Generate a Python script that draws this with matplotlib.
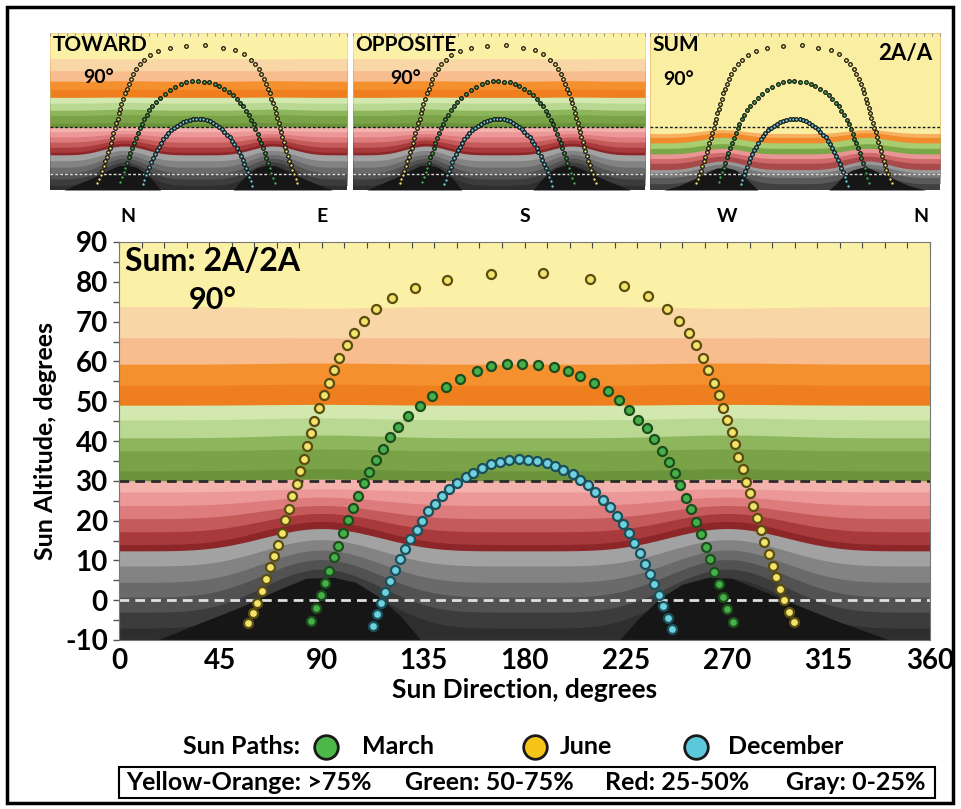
import numpy as np
import matplotlib.pyplot as plt
from matplotlib.patches import Rectangle

plt.rcParams['font.family'] = ['Lato', 'DejaVu Sans']
plt.rcParams['font.weight'] = 'bold'
plt.rcParams['axes.labelweight'] = 'bold'
plt.rcParams['axes.unicode_minus'] = False

# sun paths: azimuth (deg), altitude (deg)
june_az = [57.4, 59.3, 61.3, 63.3, 65.1, 67.0, 68.8, 70.7, 72.2, 73.8, 75.3, 76.9, 78.9, 80.3,
           82.1, 83.6, 85.1, 86.6, 88.9, 91.0, 93.1, 95.6, 97.8, 101.1, 104.4, 108.7, 114.1,
           121.3, 131.4, 145.6, 165.1, 188.2, 209.1, 224.1, 234.8, 243.1, 248.5, 252.8, 256.1,
           259.4, 261.6, 264.1, 266.2, 268.3, 269.7, 272.2, 273.4, 274.9, 277.1, 278.2, 280.1,
           281.6, 283.1, 285.0, 286.5, 288.4, 290.1, 291.7, 293.5, 295.3, 297.6, 299.8]
june_alt = [-5.8, -3.3, -0.6, 2.3, 5.3, 8.3, 11.1, 13.9, 16.9, 20.1, 23.0, 26.1, 29.3, 32.5,
            35.5, 38.8, 41.9, 45.0, 48.2, 51.6, 54.6, 57.8, 60.9, 64.1, 67.1, 70.2, 73.1,
            75.9, 78.4, 80.5, 82.0, 82.2, 80.7, 79.0, 76.4, 73.1, 70.2, 67.1, 64.1,
            60.9, 57.8, 54.6, 51.6, 48.2, 45.3, 42.3, 39.2, 36.1, 32.9, 29.8, 26.9,
            23.7, 20.6, 17.6, 14.6, 11.6, 8.6, 5.8, 2.8, 0.1, -2.9, -5.6]

march_az = [85.2, 87.4, 89.5, 91.5, 93.3, 95.4, 97.4, 99.6, 101.5, 104.0, 106.2, 108.9, 111.1,
            113.9, 117.0, 120.3, 124.0, 128.5, 133.5, 139.0, 145.0, 151.5, 158.8, 165.0, 172.1,
            179.0, 186.1, 193.2, 199.4, 204.6, 211.0, 217.0, 222.0, 226.5, 230.5, 234.2, 237.5,
            240.9, 244.1, 246.8, 249.0, 251.7, 253.7, 256.1, 258.2, 260.5, 262.3, 264.2, 266.3,
            268.2, 270.0, 272.4]
march_alt = [-5.2, -2.0, 1.3, 4.3, 7.4, 10.8, 13.7, 17.0, 20.2, 23.2, 26.2, 29.4, 32.3,
             35.2, 38.0, 40.9, 43.6, 46.3, 48.9, 51.3, 53.5, 55.5, 57.7, 58.8, 59.3,
             59.4, 59.1, 58.5, 57.5, 56.3, 54.6, 52.5, 50.2, 47.8, 45.3, 43.2, 40.4,
             37.6, 34.8, 31.9, 28.9, 25.8, 22.8, 19.7, 16.6, 13.4, 10.3, 7.2, 4.0,
             0.9, -2.3, -5.6]

dec_az = [112.6, 114.4, 116.3, 118.1, 120.3, 122.5, 124.7, 126.9, 129.2, 132.1, 134.4, 137.3,
          140.3, 143.2, 146.6, 149.9, 154.0, 157.3, 161.0, 165.0, 169.1, 173.3, 177.5, 181.7,
          185.7, 189.8, 193.5, 197.2, 201.4, 204.6, 208.3, 211.3, 214.9, 217.9, 220.9, 223.6,
          226.4, 228.6, 231.3, 233.5, 235.7, 237.7, 239.8, 241.7, 243.5, 245.4]
dec_alt = [-6.4, -3.5, -0.6, 2.1, 4.9, 7.6, 10.3, 12.8, 15.4, 17.6, 20.0, 22.3,
           24.1, 26.2, 27.9, 29.5, 30.9, 32.0, 33.1, 34.1, 34.8, 35.2, 35.5, 35.2,
           35.0, 34.4, 33.7, 32.7, 31.6, 30.3, 28.9, 27.2, 25.3, 23.5, 21.2, 19.1,
           16.8, 14.4, 11.9, 9.2, 6.7, 4.0, 1.3, -1.5, -4.4, -7.3]

# background bands, listed bottom to top: colour, lower edge at N/S, lower edge at E/W
main_colors = ['#3c3c3c', '#525252', '#6a6a6a', '#838383', '#a2a2a2',
               '#8c2628', '#a83a3b', '#c55a5b', '#dd7b7d', '#ec9899', '#f4b2ae',
               '#6a933b', '#7aa347', '#8db65c', '#b9d892', '#d2e8ae',
               '#ef7f1e', '#f5902e', '#f8bd8e', '#f9d6a6', '#fbf1a6']
main_lo_ns = [-7.0, -3.0, 0.8, 4.5, 8.6,
              12.4, 14.0, 17.2, 20.5, 23.8, 27.2,
              30.0, 32.5, 37.5, 40.8, 45.3,
              49.0, 54.0, 59.3, 66.0, 73.8]
main_lo_ew = [5.5, 7.8, 10.2, 12.6, 15.2,
              18.0, 19.8, 21.8, 23.8, 25.9, 28.0,
              30.4, 33.0, 38.0, 41.5, 45.8,
              49.2, 54.3, 59.6, 65.9, 73.4]
main_base = '#2e2e2e'

sum_colors = ['#5a5a5a', '#777777', '#999999',
              '#a84a4a', '#d06a6a', '#e99595',
              '#7aa848', '#a8cc70',
              '#f08a2a', '#f6b060', '#faeea2']
sum_lo_ns = [-6.0, -2.0, 1.0,
             3.0, 7.0, 10.0,
             13.0, 16.5,
             20.0, 23.5, 26.0]
sum_lo_ew = [2.0, 4.0, 6.5,
             8.5, 11.5, 14.0,
             16.5, 19.5,
             23.5, 26.5, 28.5]
sum_base = '#404040'

# dark humps low in the east and west
hump1_az = [17, 36, 54, 70, 83, 95, 105, 115, 125, 134]
hump1_top = [-10, -5.7, -1.7, 2.5, 5.5, 5.8, 4.5, 1.0, -4.0, -10]
hump2_az = [222, 230, 240, 250, 262, 272, 285, 300, 320, 342]
hump2_top = [-10, -5.0, 0.5, 4.0, 5.8, 5.5, 2.5, -1.0, -5.5, -10]

x_ticks = [0, 45, 90, 135, 180, 225, 270, 315, 360]
y_ticks = [-10, 0, 10, 20, 30, 40, 50, 60, 70, 80, 90]
compass = ['N', 'E', 'S', 'W', 'N']
compass_az = [4, 90, 180, 270, 356]

az = np.linspace(0, 360, 721)
shape = ((1 - np.cos(np.radians(2 * az))) / 2) ** 2.5


def draw_bg(ax, base, colors, lo_ns, lo_ew, hump_top_shift=0.0):
    ax.axhspan(-10, 90, color=base, lw=0, zorder=0)
    for c, a, b in zip(colors, lo_ns, lo_ew):
        ax.fill_between(az, a + (b - a) * shape, 90, color=c, lw=0, zorder=0)
    for ha, ht in [(hump1_az, hump1_top), (hump2_az, hump2_top)]:
        ht = np.array(ht) + hump_top_shift
        ax.fill_between(ha, -10, np.maximum(ht, -10), color='#161616', lw=0, zorder=1)
    ax.set_xlim(0, 360)
    ax.set_ylim(-10, 90)


W, H = 962, 809
fig = plt.figure(figsize=(W / 100, H / 100), dpi=100)

series = [(june_az, june_alt, '#f3e36a', '#5b4d12'),
          (march_az, march_alt, '#45b04a', '#1d4d1d'),
          (dec_az, dec_alt, '#6fd0de', '#1b4f5a')]

# ---- main chart
ax = fig.add_axes([119 / W, 1 - 640 / H, 811 / W, 398 / H])
draw_bg(ax, main_base, main_colors, main_lo_ns, main_lo_ew)
ax.axhline(30, color='#2a2a2a', ls=(0, (3.5, 2.2)), lw=2, zorder=2)
ax.axhline(0, color='#e0e0e0', ls=(0, (3.5, 2.2)), lw=2, zorder=2)
for a, h, fc, ec in series:
    ax.plot(a, h, 'o', ls='none', ms=6.5, mfc=fc, mec=ec, mew=1.6, zorder=3)
ax.set_xticks(x_ticks)
ax.set_yticks(y_ticks)
ax.set_yticks(np.arange(-5, 90, 10), minor=True)
ax.tick_params(axis='y', which='both', direction='out', length=4, width=1, color='#555555',
               labelsize=20, pad=4)
ax.tick_params(axis='x', length=0, labelsize=20, pad=6)
for lab in ax.get_xticklabels() + ax.get_yticklabels():
    lab.set_fontweight('bold')
for s in ax.spines.values():
    s.set_color('#777777')
    s.set_linewidth(0.8)
top = ax.secondary_xaxis('top')
top.set_xticks(np.arange(0, 361, 10))
top.set_xticklabels([])
top.tick_params(direction='in', length=4, color='#444444')
top.spines['top'].set_visible(False)
ax.set_xlabel('Sun Direction, degrees', fontsize=19, fontweight='bold', labelpad=3)
ax.set_ylabel('Sun Altitude, degrees', fontsize=18, fontweight='bold', labelpad=6)
for c, a in zip(compass, compass_az):
    ax.text(a, 96.5, c, ha='center', va='center', fontsize=14, fontweight='bold')
ax.text(2.5, 85, 'Sum: 2A/2A', fontsize=23, fontweight='bold', va='center', ha='left', zorder=4)
ax.text(31, 75.5, '90°', fontsize=22, fontweight='bold', va='center', ha='left', zorder=4)

# ---- small panels
panels = [(50, 297, 'TOWARD', 0.111, 0.717, False),
          (353, 292, 'OPPOSITE', 0.127, 0.713, False),
          (650, 290, 'SUM', 0.045, 0.707, True)]
for x0, w, title, deg_x, deg_y, is_sum in panels:
    sa = fig.add_axes([x0 / W, 1 - 190 / H, w / W, 157 / H])
    if is_sum:
        draw_bg(sa, sum_base, sum_colors, sum_lo_ns, sum_lo_ew, hump_top_shift=-1.5)
    else:
        draw_bg(sa, main_base, main_colors, main_lo_ns, main_lo_ew)
    sa.axhline(30, color='#1a1a1a', ls=(0, (2, 1.5)), lw=1, zorder=2)
    sa.axhline(0, color='#dddddd', ls=(0, (2, 1.5)), lw=1, zorder=2)
    for a, h, fc, ec in series:
        sa.plot(a, h, 'o', ls='none', ms=2.6, mfc=fc, mec='#151515', mew=0.9, zorder=3)
    sa.set_xticks(np.arange(0, 361, 10))
    sa.set_yticks([])
    sa.tick_params(axis='x', top=True, bottom=False, labelbottom=False, direction='in',
                   length=2, color='#999999')
    for s in sa.spines.values():
        s.set_visible(False)
    sa.text(0.008, 0.925, title, transform=sa.transAxes, fontsize=15, fontweight='bold',
            va='center', ha='left', zorder=4)
    sa.text(deg_x, deg_y, '90°', transform=sa.transAxes, fontsize=14, fontweight='bold',
            va='center', ha='left', zorder=4)
    if is_sum:
        sa.text(0.972, 0.87, '2A/A', transform=sa.transAxes, fontsize=16, fontweight='bold',
                va='center', ha='right', zorder=4)

# ---- legend strip and frame, drawn in pixel coordinates
ov = fig.add_axes([0, 0, 1, 1], zorder=5)
ov.set_xlim(0, W)
ov.set_ylim(H, 0)
ov.axis('off')
ov.patch.set_alpha(0)
ov.add_patch(Rectangle((7, 7), 946, 796, fill=False, lw=2.5, ec='black'))
ov.text(300, 747, 'Sun Paths:', ha='right', va='center', fontsize=18, fontweight='bold')
legend_items = [(326, 362, 'March', '#4cb848'), (535, 560, 'June', '#f5c518'),
                (696, 728, 'December', '#5cc8dc')]
for x, tx, lab, col in legend_items:
    ov.plot([x], [747], 'o', ms=17, mfc=col, mec='#1a1a1a', mew=2)
    ov.text(tx, 747, lab, ha='left', va='center', fontsize=18, fontweight='bold')
ov.add_patch(Rectangle((119, 767), 816, 31, fill=False, lw=1.5, ec='black'))
box_texts = [(126, 'Yellow-Orange: >75%'), (405, 'Green: 50-75%'),
             (605, 'Red: 25-50%'), (786, 'Gray: 0-25%')]
for x, t in box_texts:
    ov.text(x, 782, t, ha='left', va='center', fontsize=18, fontweight='bold')

fig.savefig('out.png', dpi=100)
